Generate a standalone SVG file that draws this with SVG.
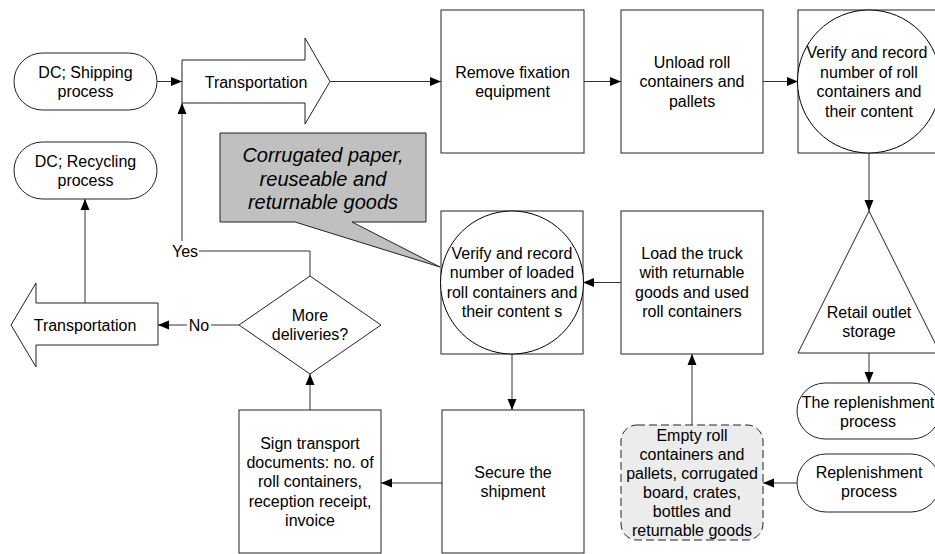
<svg xmlns="http://www.w3.org/2000/svg" width="935" height="554" viewBox="0 0 935 554">
<defs>
<marker id="ah" markerUnits="userSpaceOnUse" markerWidth="12" markerHeight="10" refX="11" refY="5" orient="auto">
<path d="M0,0.5 L11,5 L0,9.5 Z" fill="#000"/>
</marker>
<style>
.s{fill:#fff;stroke:#222;stroke-width:1}
.t{font-family:"Liberation Sans",Arial,sans-serif;font-size:16px;fill:#000;text-anchor:middle}
.c{fill:none;stroke:#333;stroke-width:1;marker-end:url(#ah)}
.l{fill:none;stroke:#333;stroke-width:1}
.i{font-family:"Liberation Sans",Arial,sans-serif;font-size:20px;font-style:italic;fill:#000;text-anchor:middle}
</style>
</defs>
<rect width="935" height="554" fill="#fff"/>
<g id="connectors">
<path class="c" d="M157,81.5 H182"/>
<path class="c" d="M330,81.5 H441"/>
<path class="c" d="M584,81.5 H621"/>
<path class="c" d="M763,81.5 H798"/>
<path class="c" d="M869,153 V211"/>
<path class="c" d="M869,353 V383"/>
<path class="c" d="M797,483 H763"/>
<path class="c" d="M692,425 V354"/>
<path class="c" d="M621,282.5 H583"/>
<path class="c" d="M512,354 V410"/>
<path class="c" d="M442,483 H381"/>
<path class="c" d="M310,410 V374"/>
<path class="c" d="M310,276 V251 H182 V103"/>
<path class="c" d="M239,325 H158"/>
<path class="c" d="M85,303 V199"/>
<rect x="171" y="241" width="28" height="21" fill="#fff"/>
<text class="t" x="185" y="256.5">Yes</text>
<rect x="187" y="315" width="24" height="21" fill="#fff"/>
<text class="t" x="199" y="330.5">No</text>
</g>
<g id="shipping">
<rect class="s" x="14" y="53" width="143" height="57" rx="28.5"/>
<text class="t" x="85.5" y="77.5">DC; Shipping</text>
<text class="t" x="85.5" y="96.5">process</text>
</g>
<g id="recycling">
<rect class="s" x="14" y="142" width="143" height="57" rx="28.5"/>
<text class="t" x="85.5" y="166.5">DC; Recycling</text>
<text class="t" x="85.5" y="185.5">process</text>
</g>
<g id="transport1">
<polygon class="s" points="182,60 305,60 305,38 330,81.5 305,124 305,103 182,103"/>
<text class="t" x="256" y="87.5">Transportation</text>
</g>
<g id="remove">
<rect class="s" x="441" y="10" width="143" height="143"/>
<text class="t" x="512.5" y="77.5">Remove fixation</text>
<text class="t" x="512.5" y="96.5">equipment</text>
</g>
<g id="unload">
<rect class="s" x="621" y="10" width="142" height="143"/>
<text class="t" x="692" y="67.5">Unload roll</text>
<text class="t" x="692" y="87">containers and</text>
<text class="t" x="692" y="106.5">pallets</text>
</g>
<g id="verify1">
<rect class="s" x="798" y="10" width="142" height="143"/>
<circle cx="869" cy="81.5" r="71.5" fill="#fff" stroke="#000" stroke-width="1"/>
<text class="t" x="867" y="58">Verify and record</text>
<text class="t" x="869" y="77.5">number of roll</text>
<text class="t" x="869" y="97">containers and</text>
<text class="t" x="869" y="116.5">their content</text>
</g>
<g id="retail">
<polygon class="s" points="869,211 798,353 940,353"/>
<text class="t" x="869" y="318">Retail outlet</text>
<text class="t" x="869" y="337">storage</text>
</g>
<g id="replen1">
<rect class="s" x="797" y="383" width="143" height="56" rx="28"/>
<text class="t" x="868" y="407.5">The replenishment</text>
<text class="t" x="868" y="426.5">process</text>
</g>
<g id="replen2">
<rect class="s" x="797" y="454" width="143" height="58" rx="29"/>
<text class="t" x="869" y="477.5">Replenishment</text>
<text class="t" x="869" y="496.5">process</text>
</g>
<g id="empty">
<rect x="621" y="425" width="142" height="115" rx="16" fill="#ececec" stroke="#222" stroke-width="1" stroke-dasharray="8,4"/>
<text class="t" x="692" y="440.5">Empty roll</text>
<text class="t" x="692" y="459.5">containers and</text>
<text class="t" x="692" y="478.5">pallets, corrugated</text>
<text class="t" x="692" y="497.5">board, crates,</text>
<text class="t" x="692" y="516.5">bottles and</text>
<text class="t" x="692" y="535.5">returnable goods</text>
</g>
<g id="loadtruck">
<rect class="s" x="621" y="211" width="142" height="143"/>
<text class="t" x="692" y="258.5">Load the truck</text>
<text class="t" x="692" y="278">with returnable</text>
<text class="t" x="692" y="297.5">goods and used</text>
<text class="t" x="692" y="317">roll containers</text>
</g>
<g id="verify2">
<rect class="s" x="441" y="211" width="142" height="143"/>
<circle cx="512" cy="282.5" r="71.5" fill="#fff" stroke="#000" stroke-width="1"/>
<text class="t" x="512" y="258.5">Verify and record</text>
<text class="t" x="512" y="278">number of loaded</text>
<text class="t" x="512" y="297.5">roll containers and</text>
<text class="t" x="512" y="317">their content s</text>
</g>
<g id="secure">
<rect class="s" x="442" y="410" width="142" height="143"/>
<text class="t" x="513" y="477.5">Secure the</text>
<text class="t" x="513" y="496.5">shipment</text>
</g>
<g id="sign">
<rect class="s" x="239" y="410" width="142" height="143"/>
<text class="t" x="310" y="448.5">Sign transport</text>
<text class="t" x="310" y="467.5">documents: no. of</text>
<text class="t" x="310" y="487">roll containers,</text>
<text class="t" x="310" y="506.5">reception receipt,</text>
<text class="t" x="310" y="525.5">invoice</text>
</g>
<g id="decision">
<polygon class="s" points="239,325 310,276 381,325 310,374"/>
<text class="t" x="310" y="320.5">More</text>
<text class="t" x="310" y="339.5">deliveries?</text>
</g>
<g id="transport2">
<polygon class="s" points="11,325 36,283 36,303 158,303 158,345 36,345 36,367"/>
<text class="t" x="85" y="330.5">Transportation</text>
</g>
<g id="callout">
<path d="M220,133 H426 V222 H352 L440,267 L295,222 H220 Z" fill="#c0c0c0" stroke="#222" stroke-width="1"/>
<text class="i" x="323" y="162">Corrugated paper,</text>
<text class="i" x="323" y="185.5">reuseable and</text>
<text class="i" x="323" y="209">returnable goods</text>
</g>
</svg>
